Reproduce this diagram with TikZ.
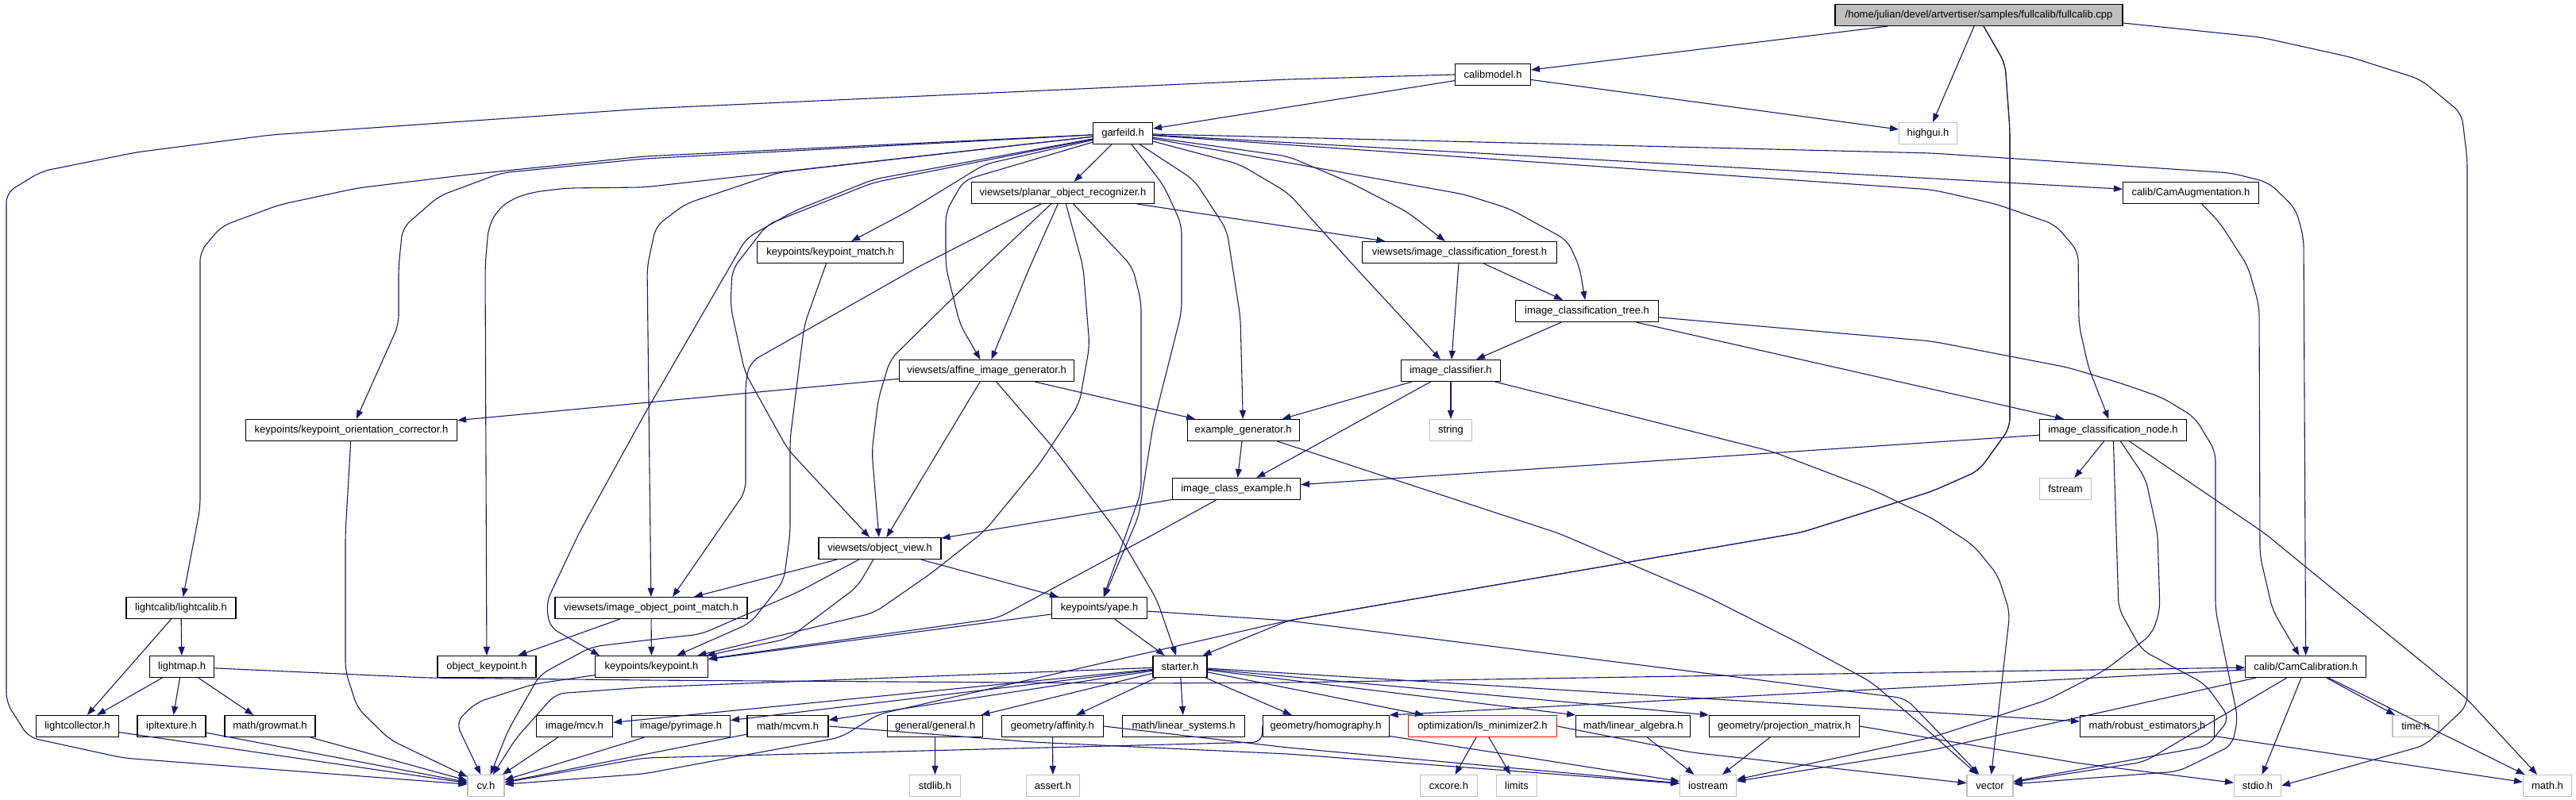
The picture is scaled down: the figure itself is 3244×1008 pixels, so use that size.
\documentclass[tikz,border=0pt]{standalone}
\usepackage{fontspec}
\setmainfont{Liberation Sans}
\usetikzlibrary{arrows.meta}
\definecolor{edgec}{HTML}{191970}
\definecolor{gb}{HTML}{BFBFBF}
\begin{document}
\begin{tikzpicture}[x=1pt,y=-1pt,
 n/.style={draw=black, fill=white, line width=1.1pt, minimum height=27pt, inner sep=0pt, font=\fontsize{13}{15}\selectfont},
 g/.style={n, draw=gb},
 e/.style={draw=edgec, line width=1.1pt, -{Triangle[length=11pt,width=8pt]}, rounded corners=12pt}]
\useasboundingbox (0,0) rectangle (3244,1008);
\fill[white] (0,0) rectangle (3244,1008);
% nodes
\node[n, fill=gb, minimum width=362pt] (cpp) at (2492,19) {/home/julian/devel/artvertiser/samples/fullcalib/fullcalib.cpp};
\node[n, minimum width=95pt] (calibmodel) at (1880,94) {calibmodel.h};
\node[n, minimum width=75pt] (garf) at (1414,168) {garfeild.h};
\node[g, minimum width=73pt] (highgui) at (2428,168) {highgui.h};
\node[n, minimum width=230pt] (planar) at (1338.5,243) {viewsets/planar\_object\_recognizer.h};
\node[n, minimum width=171pt] (camaug) at (2759,243) {calib/CamAugmentation.h};
\node[n, minimum width=184pt] (kpmatch) at (1045.5,318) {keypoints/keypoint\_match.h};
\node[n, minimum width=245pt] (forest) at (1838,318) {viewsets/image\_classification\_forest.h};
\node[n, minimum width=180pt] (tree) at (1998.5,392) {image\_classification\_tree.h};
\node[n, minimum width=220pt] (affine) at (1242.6,467) {viewsets/affine\_image\_generator.h};
\node[n, minimum width=125pt] (classifier) at (1827,467) {image\_classifier.h};
\node[n, minimum width=266pt] (corrector) at (442.5,542) {keypoints/keypoint\_orientation\_corrector.h};
\node[n, minimum width=141pt] (exgen) at (1565.6,542) {example\_generator.h};
\node[g, minimum width=53pt] (string) at (1827,542) {string};
\node[n, minimum width=185pt] (icnode) at (2661,542) {image\_classification\_node.h};
\node[n, minimum width=161pt] (icexample) at (1557,616) {image\_class\_example.h};
\node[g, minimum width=65pt] (fstream) at (2601,616) {fstream};
\node[n, minimum width=154pt] (objview) at (1108,691) {viewsets/object\_view.h};
\node[n, minimum width=138pt] (lightcalib) at (228,766) {lightcalib/lightcalib.h};
\node[n, minimum width=242pt] (iopm) at (820,766) {viewsets/image\_object\_point\_match.h};
\node[n, minimum width=120pt] (yape) at (1384.6,766) {keypoints/yape.h};
\node[n, minimum width=152pt] (camcal) at (2903.7,840) {calib/CamCalibration.h};
\node[n, minimum width=81pt] (lightmap) at (229,840) {lightmap.h};
\node[n, minimum width=124pt] (objkp) at (613,840) {object\_keypoint.h};
\node[n, minimum width=142pt] (keypoint) at (820.5,840) {keypoints/keypoint.h};
\node[n, minimum width=68pt] (starter) at (1486,840) {starter.h};
\node[n, minimum width=104pt] (lightcollector) at (97.5,915) {lightcollector.h};
\node[n, minimum width=86pt] (ipltexture) at (216,915) {ipltexture.h};
\node[n, minimum width=114pt] (growmat) at (340,915) {math/growmat.h};
\node[n, minimum width=96pt] (mcv) at (723.5,915) {image/mcv.h};
\node[n, minimum width=124pt] (pyrimage) at (857.5,915) {image/pyrimage.h};
\node[n, minimum width=102pt] (mcvm) at (992,915) {math/mcvm.h};
\node[n, minimum width=120pt] (general) at (1177.7,915) {general/general.h};
\node[n, minimum width=128pt] (affinity) at (1325.4,915) {geometry/affinity.h};
\node[n, minimum width=154pt] (linsys) at (1490.6,915) {math/linear\_systems.h};
\node[n, minimum width=159pt] (homography) at (1669.6,915) {geometry/homography.h};
\node[n, draw=red, minimum width=187pt] (lsmin) at (1867,915) {optimization/ls\_minimizer2.h};
\node[n, minimum width=144pt] (linalg) at (2056.7,915) {math/linear\_algebra.h};
\node[n, minimum width=189pt] (projmat) at (2247,915) {geometry/projection\_matrix.h};
\node[n, minimum width=169pt] (robust) at (2704,915) {math/robust\_estimators.h};
\node[g, minimum width=58pt] (timeh) at (3042,915) {time.h};
\node[g, minimum width=46pt] (cv) at (612,990) {cv.h};
\node[g, minimum width=64pt] (stdlib) at (1177.4,990) {stdlib.h};
\node[g, minimum width=67pt] (assert) at (1326,990) {assert.h};
\node[g, minimum width=72pt] (cxcore) at (1824.5,990) {cxcore.h};
\node[g, minimum width=51pt] (limits) at (1910,990) {limits};
\node[g, minimum width=71pt] (iostream) at (2151,990) {iostream};
\node[g, minimum width=58pt] (vector) at (2506,990) {vector};
\node[g, minimum width=59pt] (stdio) at (2843,990) {stdio.h};
\node[g, minimum width=61pt] (mathh) at (3208,990) {math.h};
% edges from cpp
\draw[e] (cpp) -- (calibmodel);
\draw[e] (cpp) -- (highgui);
\draw[e] ([xshift=6pt]cpp.south) -- (2525,80) -- (2531,163) -- (2531,539) -- (2492,593) -- (2433,619) -- (2268,671) -- (1622,782) -- ([xshift=-6pt]starter.north east);
\draw[e] ([xshift=6pt]cpp.south) -- (2525,80) -- (2531,163) -- (2531,539) -- (2492,593) -- (2433,619) -- (2268,671) -- (1622,782) -- (1106,900) -- (1059,929) -- (811,975) -- (cv);
\draw[e] ([yshift=-10pt]cpp.east) -- (2847,47) -- (2960,72) -- (3048,100) -- (3100,143) -- (3107,200) -- (3107,889) -- (3054,939) -- (stdio.east);
% calibmodel
\draw[e] (calibmodel) -- (garf);
\draw[e] (calibmodel) -- (highgui);
\draw[e] (calibmodel.west) -- (1622,100) -- (811,137) -- (341,170) -- (171,192) -- (52,216) -- (8,243) -- (8,885) -- (36,929) -- (155,955) -- (cv);
% garfeild
\draw[e] (garf) -- (planar);
\draw[e] (garf) -- (camaug);
\draw[e] (garf) -- (2433,193) -- (2810,218) -- (2857,230) -- (2891,263) -- (2901,300) -- (camcal);
\draw[e] (garf) -- (2433,239) -- (2513,257) -- (2588,283) -- (2617,317) -- (2618,409) -- (2630,463) -- (icnode);
\draw[e] (garf) -- (1622,197) -- (1700,230) -- (1772,267) -- (forest);
\draw[e] (garf) -- (1622,205) -- (1844,245) -- (1901,263) -- (1974,303) -- (1989,336) -- (tree);
\draw[e] (garf) -- (1561,207) -- (1622,243) -- (1705,335) -- (classifier);
\draw[e] (garf) -- (1504,227) -- (1545,290) -- (1562,400) -- (exgen);
\draw[e] (garf) -- (1465,233) -- (1488,283) -- (1488,393) -- (1452,536) -- (1434,650) -- (yape);
\draw[e] (garf) -- (1240,207) -- (1142,267) -- (kpmatch);
\draw[e] (garf) -- (1214,227) -- (1191,267) -- (1191,336) -- (1209,409) -- (affine);
\draw[e] (garf) -- (1100,230) -- (966,283) -- (922,340) -- (920,386) -- (938,469) -- (992,566) -- (objview);
\draw[e] (garf) -- (1100,226) -- (1000,266) -- (940,300) -- (811,523) -- (729,672) -- (688,759) -- (692,790) -- ([xshift=6pt]keypoint.north west);
\draw[e] (garf) -- (982,217) -- (863,257) -- (826,285) -- (815,336) -- (iopm);
\draw[e] (garf) -- (811,236) -- (714,237) -- (672,242) -- (646,250) -- (626,265) -- (615,287) -- (611,336) -- (objkp);
\draw[e] (garf) -- (811,197) -- (590,220) -- (450,237) -- (352,258) -- (279,285) -- (252,317) -- (252,640) -- (lightcalib);
\draw[e] (garf) -- (811,200) -- (631,218) -- (553,247) -- (507,287) -- (502,336) -- (502,409) -- (corrector);
% planar
\draw[e] (planar) -- (1157,336) -- (945,456) -- (939,480) -- (939,619) -- ([xshift=27pt]iopm.north);
\draw[e] (planar) -- (1240,336) -- (1121,453) -- (1106,503) -- (1098,569) -- (objview);
\draw[e] (planar) -- (1297,336) -- (affine);
\draw[e] (planar) -- (1364,336) -- (1372,436) -- (1359,509) -- (1308,586) -- (1240,669) -- (1173,722) -- (1101,772) -- (keypoint);
\draw[e] (planar) -- (1426,336) -- (1437,380) -- (1437,620) -- (yape);
\draw[e] (planar) -- (forest);
% camaug
\draw[e] (camaug) -- (2795,280) -- (2831,336) -- (2845,386) -- (2846,700) -- (2862,769) -- (camcal);
% kpmatch
\draw[e] (kpmatch) -- (1013,409) -- (995,553) -- (995,672) -- (987,732) -- (945,785) -- (keypoint);
% forest, tree
\draw[e] (forest) -- (tree);
\draw[e] (forest) -- (classifier);
\draw[e] (tree) -- (classifier);
\draw[e] (tree) -- (icnode);
\draw[e] (tree) -- (2433,430) -- (2604,463) -- (2671,483) -- (2723,501) -- (2764,526) -- (2790,569) -- (2790,769) -- (2818,905) -- (2811,939) -- (2743,972) -- (vector);
% affine
\draw[e] (affine) -- (corrector);
\draw[e] (affine) -- (objview);
\draw[e] (affine) -- (exgen);
\draw[e] (affine) -- (1328,566) -- (1406,669) -- (1457,756) -- (starter);
% classifier
\draw[e] (classifier) -- (exgen);
\draw[e] (classifier) -- (string);
\draw[e] (classifier) -- (icexample);
\draw[e] (classifier) -- (2232,569) -- (2356,616) -- (2433,653) -- (2485,687) -- (2516,725) -- (2531,772) -- (vector);
% corrector
\draw[e] (corrector) -- (435,672) -- (435,845) -- (450,892) -- (491,932) -- (cv);
% exgen
\draw[e] (exgen) -- (icexample);
\draw[e] (exgen) -- (1963,672) -- (2150,752) -- (2263,809) -- (2356,859) -- (2433,925) -- (vector);
% node
\draw[e] (icnode) -- (fstream);
\draw[e] (icnode) -- (icexample);
\draw[e] (icnode) -- (2668,767) -- (2697,819) -- (2777,862) -- (2808,905) -- (2780,940) -- (vector);
\draw[e] (icnode) -- (2702,603) -- (2717,672) -- (2720,769) -- (2710,799) -- (2650,845) -- (2578,882) -- (2433,929) -- (iostream);
\draw[e] (icnode) -- (2852,672) -- (3105,879) -- (mathh);
% icexample
\draw[e] (icexample) -- (objview);
\draw[e] (icexample) -- (1457,671) -- (1256,779) -- (keypoint);
% objview
\draw[e] (objview) -- (iopm);
\draw[e] (objview) -- (1080,739) -- (992,805) -- (keypoint);
\draw[e] (objview) -- (1007,745) -- (883,799) -- (811,807) -- (745,815) -- (680,850) -- (640,920) -- (cv);
\draw[e] (objview) -- (yape);
% light
\draw[e] (lightcalib) -- (lightmap);
\draw[e] (lightcalib) -- (lightcollector);
\draw[e] (lightmap) -- (lightcollector);
\draw[e] (lightmap) -- (ipltexture);
\draw[e] (lightmap) -- (growmat);
\draw[e] (lightmap) -- (538,854) -- (811,857) -- (1440,861) -- (1622,860) -- (2433,847) -- (camcal);
\draw[e] (lightcollector) -- (cv);
\draw[e] (ipltexture) -- (cv);
\draw[e] (growmat) -- (cv);
% iopm, keypoint, yape
\draw[e] (iopm) -- (objkp);
\draw[e] (iopm) -- (keypoint);
\draw[e] (keypoint) -- (672,862) -- (600,885) -- (574,910) -- (cv);
\draw[e] (yape) -- (keypoint);
\draw[e] (yape) -- (starter);
\draw[e] (yape) -- (1622,782) -- (2400,880) -- (vector);
% starter
\draw[e] (starter) -- (811,866) -- (700,874) -- (650,930) -- (cv);
\draw[e] (starter) -- (mcv);
\draw[e] (starter) -- (pyrimage);
\draw[e] (starter) -- (mcvm);
\draw[e] (starter) -- (general);
\draw[e] (starter) -- (affinity);
\draw[e] (starter) -- (linsys);
\draw[e] (starter) -- ([xshift=37pt]homography.north west);
\draw[e] (starter) -- ([xshift=20pt]lsmin.north west);
\draw[e] (starter) -- (linalg.north west);
\draw[e] (starter) -- (projmat.north west);
\draw[e] (starter) -- ([yshift=6pt]robust.west);
% lower
\draw[e] (mcv) -- (cv);
\draw[e] (pyrimage) -- (cv);
\draw[e] (mcvm) -- (cv);
\draw[e] (mcvm.east) -- (1300,935) -- (1622,950) -- (iostream);
\draw[e] (general) -- (stdlib);
\draw[e] (affinity) -- (assert);
\draw[e] (affinity.east) -- (1622,942) -- (iostream);
\draw[e] (homography.west) -- (1590,935) -- (811,955) -- (cv);
\draw[e] (homography) -- (iostream);
\draw[e] (lsmin) -- (cxcore);
\draw[e] (lsmin) -- (limits);
\draw[e] (lsmin.east) -- (2130,948) -- (vector);
\draw[e] (linalg) -- (iostream);
\draw[e] (projmat) -- (iostream);
\draw[e] (projmat.east) -- (2620,962) -- (stdio);
\draw[e] (robust) -- (mathh);
% camcal
\draw[e] (camcal) -- (homography.north east);
\draw[e] (camcal) -- (timeh);
\draw[e] (camcal) -- (2700,960) -- (vector);
\draw[e] (camcal) -- (2433,945) -- (iostream);
\draw[e] (camcal) -- (stdio);
\draw[e] (camcal) -- (mathh);
\end{tikzpicture}
\end{document}
